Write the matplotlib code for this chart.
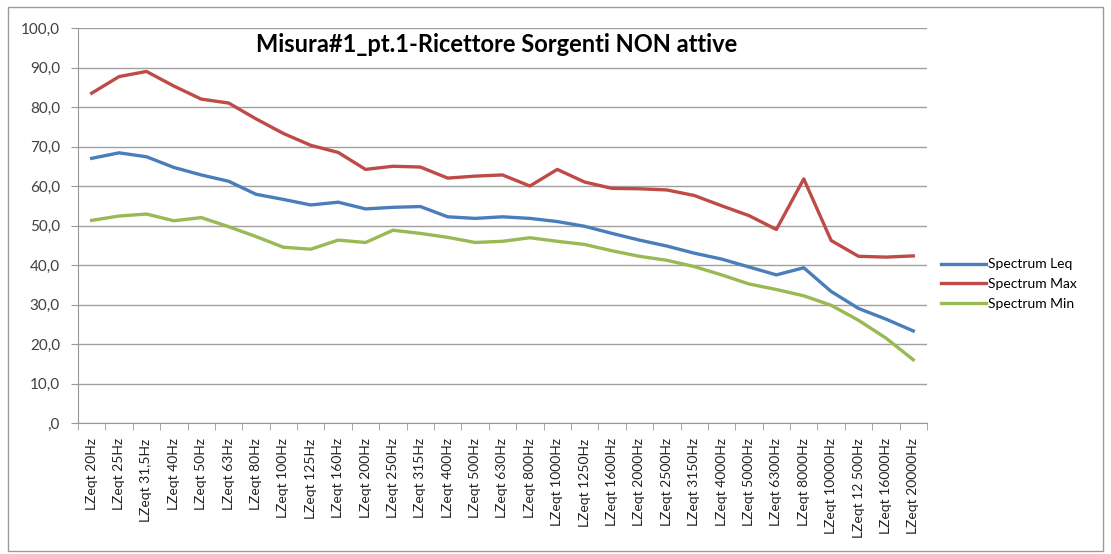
import numpy as np
import matplotlib
matplotlib.use("Agg")
import matplotlib.pyplot as plt
from matplotlib.patches import Rectangle

freqs = ["20Hz", "25Hz", "31,5Hz", "40Hz", "50Hz", "63Hz", "80Hz", "100Hz", "125Hz", "160Hz",
         "200Hz", "250Hz", "315Hz", "400Hz", "500Hz", "630Hz", "800Hz", "1000Hz", "1250Hz", "1600Hz",
         "2000Hz", "2500Hz", "3150Hz", "4000Hz", "5000Hz", "6300Hz", "8000Hz", "10000Hz", "12 500Hz",
         "16000Hz", "20000Hz"]
labels = ["LZeqt " + f for f in freqs]

spectrum_leq = [67.0, 68.4, 67.4, 64.7, 62.8, 61.2, 57.9, 56.6, 55.2, 55.9,
                54.2, 54.6, 54.8, 52.2, 51.8, 52.2, 51.8, 51.0, 49.8, 48.0,
                46.3, 44.8, 43.0, 41.5, 39.5, 37.5, 39.3, 33.3, 29.0, 26.3, 23.3]
spectrum_max = [83.5, 87.7, 89.0, 85.3, 82.0, 81.0, 77.0, 73.3, 70.3, 68.5,
                64.2, 65.0, 64.8, 62.0, 62.5, 62.8, 60.0, 64.2, 61.0, 59.4,
                59.3, 59.0, 57.6, 55.0, 52.5, 49.0, 61.8, 46.2, 42.2, 42.0, 42.3]
spectrum_min = [51.3, 52.4, 52.9, 51.2, 52.0, 49.7, 47.2, 44.5, 44.0, 46.3,
                45.7, 48.8, 48.0, 47.0, 45.7, 46.0, 46.9, 46.0, 45.2, 43.6,
                42.2, 41.2, 39.6, 37.5, 35.2, 33.8, 32.2, 29.8, 26.0, 21.5, 16.0]

plt.rcParams['font.family'] = ['Lato', 'DejaVu Sans']

fig = plt.figure(figsize=(11.11, 5.54), dpi=100)
fig.patches.append(Rectangle((8 / 1111, 3 / 554), 1095 / 1111, 544 / 554, transform=fig.transFigure,
                             fill=False, edgecolor="#9a9a9a", linewidth=1))
ax = fig.add_axes([78 / 1111, 1 - 423 / 554, (927 - 78) / 1111, (423 - 28) / 554])

x = np.arange(len(labels))
ax.plot(x, spectrum_leq, color="#4A7EBB", lw=2.4, label="Spectrum Leq")
ax.plot(x, spectrum_max, color="#BE4B48", lw=2.4, label="Spectrum Max")
ax.plot(x, spectrum_min, color="#98B954", lw=2.4, label="Spectrum Min")

ax.set_xlim(-0.5, len(labels) - 0.5)
ax.set_ylim(0, 100)
yt = np.arange(0, 101, 10)
ax.set_yticks(yt)
ax.set_yticklabels([",0" if v == 0 else f"{v},0" for v in yt], fontsize=11, color="#404040")
ax.set_xticks(x)
ax.set_xticklabels(labels, rotation=90, fontsize=10, color="#222222")
ax.set_xticks(np.arange(-0.5, len(labels)), minor=True)
ax.tick_params(axis="x", which="major", length=0, pad=11)
ax.tick_params(axis="x", which="minor", length=5, color="#999999")
ax.tick_params(axis="y", length=5, color="#999999", pad=8)
ax.yaxis.grid(True, color="#a0a0a0", lw=1)
ax.set_axisbelow(True)
for s in ["top", "right"]:
    ax.spines[s].set_visible(False)
for s in ["left", "bottom"]:
    ax.spines[s].set_color("#999999")

fig.text(497 / 1111, 1 - 45 / 554, "Misura#1_pt.1-Ricettore Sorgenti NON attive",
         fontsize=17, fontweight="bold", ha="center", va="center")

fig.legend(loc="center left", bbox_to_anchor=(928 / 1111, 1 - 284 / 554), frameon=False,
           fontsize=10, handlelength=3.3, handletextpad=0.1, labelspacing=0.55)

fig.savefig("out.png", dpi=100)
